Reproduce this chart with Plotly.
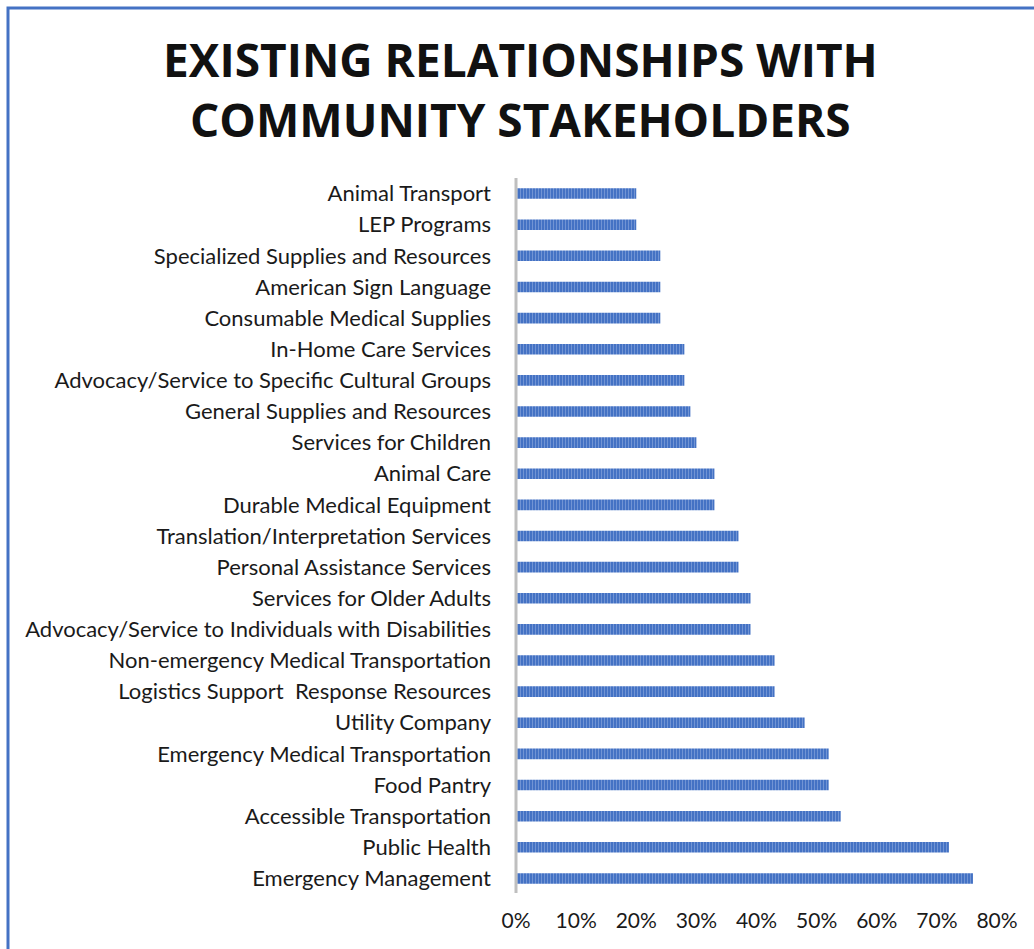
import plotly.graph_objects as go

categories = [
    "Emergency Management", "Public Health", "Accessible Transportation",
    "Food Pantry", "Emergency Medical Transportation", "Utility Company",
    "Logistics Support  Response Resources", "Non-emergency Medical Transportation",
    "Advocacy/Service to Individuals with Disabilities", "Services for Older Adults",
    "Personal Assistance Services", "Translation/Interpretation Services",
    "Durable Medical Equipment", "Animal Care", "Services for Children",
    "General Supplies and Resources", "Advocacy/Service to Specific Cultural Groups",
    "In-Home Care Services", "Consumable Medical Supplies", "American Sign Language",
    "Specialized Supplies and Resources", "LEP Programs", "Animal Transport",
]
values = [0.76, 0.72, 0.54, 0.52, 0.52, 0.48, 0.43, 0.43, 0.39, 0.39, 0.37, 0.37,
          0.33, 0.33, 0.30, 0.29, 0.28, 0.28, 0.24, 0.24, 0.24, 0.20, 0.20]
tick_vals = [0, 0.1, 0.2, 0.3, 0.4, 0.5, 0.6, 0.7, 0.8]
tick_text = ["0%", "10%", "20%", "30%", "40%", "50%", "60%", "70%", "80%"]
title_lines = ["EXISTING RELATIONSHIPS WITH", "COMMUNITY STAKEHOLDERS"]

fig = go.Figure(go.Bar(
    x=values, y=categories, orientation="h",
    marker=dict(color="#4472C4", line=dict(width=0),
                pattern=dict(shape="|", fgcolor="#9DB5E3", bgcolor="#4472C4",
                             size=3, solidity=0.35)),
    hoverinfo="x+y",
))

W, H = 1034, 949
ml, mr, mt, mb = 516, 37, 178, 55
pw, ph = W - ml - mr, H - mt - mb

def px(x):
    return (x - ml) / pw

def py(y):
    return (H - mb - y) / ph

fig.update_layout(
    width=W, height=H,
    margin=dict(l=ml, r=mr, t=mt, b=mb),
    paper_bgcolor="white", plot_bgcolor="white",
    showlegend=False,
    bargap=0.66,
    font=dict(family="Lato, Noto Sans, sans-serif", size=22, color="#1a1a1a"),
    xaxis=dict(range=[0, 0.8], tickvals=tick_vals, ticktext=tick_text,
               showgrid=False, zeroline=False, showline=False, ticks="",
               ticklabelstandoff=12, tickfont=dict(size=21)),
    yaxis=dict(categoryorder="array", categoryarray=categories,
               showgrid=False, zeroline=False, showline=False, ticks="",
               ticklabelstandoff=24, tickfont=dict(size=22)),
    annotations=[
        dict(text="<br>".join(title_lines), xref="paper", yref="paper",
             x=px(520), y=py(89), xanchor="center", yanchor="middle",
             showarrow=False, align="center",
             font=dict(family="Open Sans, sans-serif", size=46, color="#111111",
                       weight="bold")),
    ],
    shapes=[
        dict(type="line", xref="paper", yref="paper", x0=0, x1=0,
             y0=py(893), y1=py(178), line=dict(color="#BFBFBF", width=3)),
        dict(type="rect", xref="paper", yref="paper",
             x0=px(8), x1=px(1045), y0=py(960), y1=py(8),
             line=dict(color="#4472C4", width=3)),
    ],
)

fig.write_html("out.html", config={"displayModeBar": False},
               post_script="document.body.style.margin='0';")
